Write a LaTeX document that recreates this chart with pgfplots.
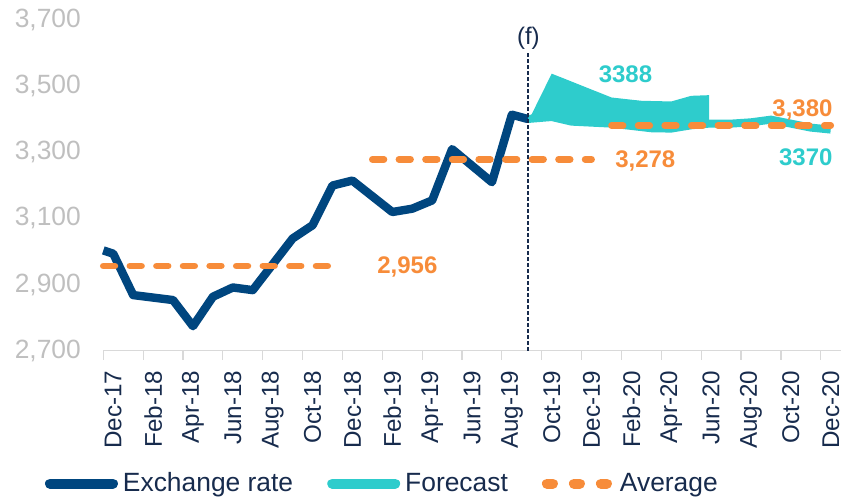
\documentclass[border=0pt]{standalone}
\usepackage{fontspec}
\setmainfont{Liberation Sans}
\usepackage{pgfplots}
\pgfplotsset{compat=1.18}
\definecolor{navy}{RGB}{0,70,127}
\definecolor{teal2}{RGB}{46,204,204}
\definecolor{orng}{RGB}{247,140,58}
\definecolor{txt}{RGB}{23,43,77}
\definecolor{ygray}{RGB}{191,191,191}
\definecolor{axgray}{RGB}{217,217,217}
\begin{document}
\begin{tikzpicture}
\begin{axis}[
  at={(51.65pt,73.65pt)}, anchor=south west,
  scale only axis, width=368.7pt, height=165.5pt,
  xmin=-0.5, xmax=36.5, ymin=2700, ymax=3700,
  axis lines*=left,
  axis line style={-},
  x axis line style={draw=axgray, line width=0.6pt},
  y axis line style={draw=none},
  xtick={0,2,...,36},
  xticklabels={Dec-17,Feb-18,Apr-18,Jun-18,Aug-18,Oct-18,Dec-18,Feb-19,Apr-19,Jun-19,Aug-19,Oct-19,Dec-19,Feb-20,Apr-20,Jun-20,Aug-20,Oct-20,Dec-20},
  minor xtick={-0.5,1.5,...,36.5},
  major tick length=0pt,
  minor tick length=4.5pt,
  tick align=outside,
  minor tick style={draw=axgray, line width=0.6pt},
  ytick={2700,2900,...,3700},
  /pgf/number format/assume math mode=true,
  yticklabel style={font=\fontsize{13.2}{14}\selectfont, color=ygray, xshift=-7.7pt, /pgf/number format/.cd, fixed, 1000 sep={,}},
  xticklabel style={rotate=90, anchor=east, font=\fontsize{12.1}{13}\selectfont, color=txt, xshift=-6.5pt},
  clip=false,
  legend columns=3,
  legend cell align=left,
  legend style={at={(-0.0791,-0.4015)}, anchor=west, draw=none, fill=none, inner sep=0pt, outer sep=0pt,
    font=\fontsize{13.2}{14}\selectfont, text=txt, nodes={inner sep=2.5pt},
    /tikz/every even column/.append style={column sep=14.5pt}},
  legend image code/.code={\draw[#1] (0pt,0pt) -- (31.5pt,0pt);},
]
% legend
\addlegendimage{navy, line width=5pt, line cap=round}
\addlegendentry{Exchange rate}
\addlegendimage{teal2, line width=5pt, line cap=round}
\addlegendentry{Forecast}
\addlegendimage{orng, line width=5pt, line cap=round, dash pattern=on 3pt off 10.5pt}
\addlegendentry{Average}
% forecast range (filled)
\addplot[forget plot, fill=teal2, draw=none] coordinates {
  (20.8,3400) (21,3415) (22,3537) (25,3465) (26.5,3455) (28,3453) (29,3470) (29.9,3472)
  (29.9,3386) (29,3381) (28,3371) (27,3372) (25,3386) (23,3392) (22,3406) (20.8,3400)
} -- cycle;
% forecast line
\addplot[forget plot, teal2, line width=4pt, line join=round] coordinates {
  (20.8,3400) (22,3406) (23,3392) (25,3386) (27,3372) (28,3371) (29,3381) (29.9,3386)
  (31,3386) (32,3390) (33,3398) (34,3386) (35,3374) (36,3368)
};
% exchange rate
\addplot[forget plot, navy, line width=4.2pt, line join=round] coordinates {
  (-0.5,3003) (0,2993) (1,2868) (3,2853) (4,2774) (5,2863) (6,2891) (7,2883)
  (9,3039) (10,3079) (11,3199) (12,3214) (14,3119) (15,3129) (16,3154) (17,3309)
  (19,3209) (20,3413) (20.8,3400)
};
% averages
\addplot[forget plot, orng, line width=3.35pt, line cap=round, dash pattern=on 5.8pt off 7.5pt] coordinates {(-0.5,2956) (11.5,2956)};
\addplot[forget plot, orng, line width=3.35pt, line cap=round, dash pattern=on 5.8pt off 7.5pt] coordinates {(13,3278) (24,3278)};
\addplot[forget plot, orng, line width=3.35pt, line cap=round, dash pattern=on 5.8pt off 7.5pt] coordinates {(25,3380) (36,3380)};
% forecast divider
\addplot[forget plot, txt, line width=1pt, dash pattern=on 2pt off 1pt] coordinates {(20.83,2700) (20.83,3606)};
% labels
\node[anchor=west, inner sep=0pt, font=\bfseries\fontsize{12}{13}\selectfont, text=orng] at (axis cs:13.23,2952) {2,956};
\node[anchor=west, inner sep=0pt, font=\bfseries\fontsize{12}{13}\selectfont, text=orng] at (axis cs:25.17,3274) {3,278};
\node[anchor=east, inner sep=0pt, font=\bfseries\fontsize{12}{13}\selectfont, text=orng] at (axis cs:36.11,3428) {3,380};
\node[anchor=west, inner sep=0pt, font=\bfseries\fontsize{12}{13}\selectfont, text=teal2] at (axis cs:24.34,3536) {3388};
\node[anchor=east, inner sep=0pt, font=\bfseries\fontsize{12}{13}\selectfont, text=teal2] at (axis cs:36.11,3283) {3370};
\node[inner sep=0pt, font=\fontsize{12}{13}\selectfont, text=txt] at (axis cs:20.83,3645) {(f)};
\end{axis}
\pgfresetboundingbox
\path (0pt,0pt) rectangle (420.5pt,249pt);
\end{tikzpicture}
\end{document}
